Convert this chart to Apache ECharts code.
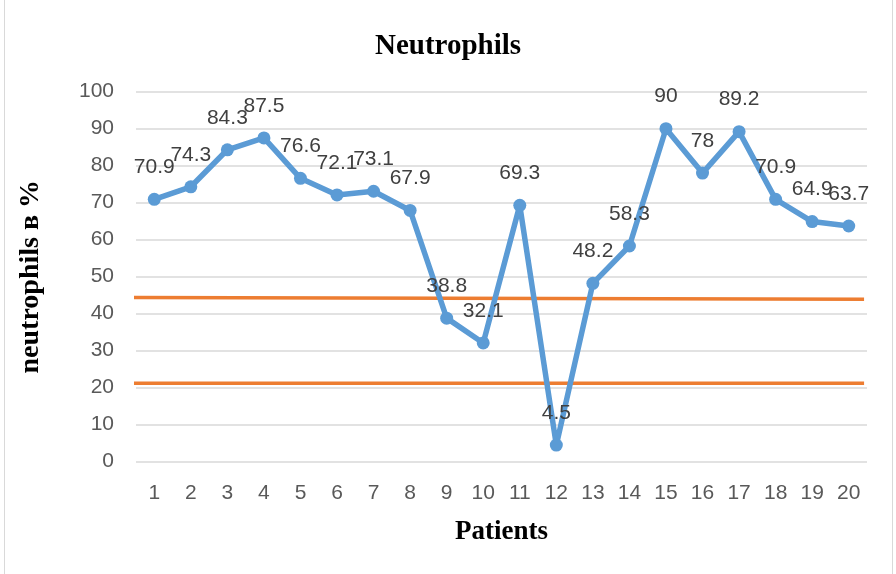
<!DOCTYPE html>
<html>
<head>
<meta charset="utf-8">
<script src="https://cdn.jsdelivr.net/npm/echarts@6/dist/echarts.min.js"></script>
<style>
  html, body { margin: 0; padding: 0; background: #fff; }
  #main { width: 896px; height: 574px; }
</style>
</head>
<body>
<div id="main"></div>
<script>
// patients and neutrophil values
var patients = ['1', '2', '3', '4', '5', '6', '7', '8', '9', '10',
    '11', '12', '13', '14', '15', '16', '17', '18', '19', '20'];
var neutrophils = [70.9, 74.3, 84.3, 87.5, 76.6, 72.1, 73.1, 67.9, 38.8, 32.1,
    69.3, 4.5, 48.2, 58.3, 90, 78, 89.2, 70.9, 64.9, 63.7];
// the two orange reference lines (start / end values)
var upperLimit = [[-0.008, 44.4], [0.996, 43.9]];
var lowerLimit = [[-0.008, 21.2], [0.996, 21.2]];
var yTicks = [0, 100, 10];

var sans = 'Liberation Sans';
var serif = 'Liberation Serif';

var myChart = echarts.init(document.getElementById('main'));
var option = {
    animation: false,
    backgroundColor: '#fff',
    title: {
        text: 'Neutrophils',
        left: 'center',
        top: 27,
        textStyle: { fontFamily: serif, fontSize: 29, fontWeight: 'bold', color: '#000' }
    },
    graphic: [{
        type: 'rect',
        shape: { x: 4.5, y: -2, width: 888, height: 580 },
        style: { fill: 'none', stroke: '#d9d9d9', lineWidth: 1 }
    }],
    grid: { left: 136, right: 29, top: 91.7, bottom: 112.3 },
    xAxis: [{
        type: 'category',
        data: patients,
        boundaryGap: true,
        name: 'Patients',
        nameLocation: 'middle',
        nameGap: 57,
        nameTextStyle: { fontFamily: serif, fontSize: 27, fontWeight: 'bold', color: '#000' },
        axisLine: { show: false },
        axisTick: { show: false },
        axisLabel: { color: '#595959', fontFamily: sans, fontSize: 21, margin: 21 }
    }, {
        type: 'value',
        min: 0,
        max: 1,
        show: false
    }],
    yAxis: {
        type: 'value',
        min: yTicks[0],
        max: yTicks[1],
        interval: yTicks[2],
        name: 'neutrophils в %',
        nameLocation: 'middle',
        nameGap: 91,
        nameTextStyle: { fontFamily: serif, fontSize: 28, fontWeight: 'bold', color: '#000' },
        axisLine: { show: false },
        axisTick: { show: false },
        axisLabel: { color: '#595959', fontFamily: sans, fontSize: 21, margin: 22 },
        splitLine: { lineStyle: { color: '#d9d9d9', width: 1.5 } }
    },
    series: [{
        type: 'line',
        xAxisIndex: 1,
        data: upperLimit,
        symbol: 'none',
        lineStyle: { color: '#ed7d31', width: 3.5 },
        silent: true
    }, {
        type: 'line',
        xAxisIndex: 1,
        data: lowerLimit,
        symbol: 'none',
        lineStyle: { color: '#ed7d31', width: 3.5 },
        silent: true
    }, {
        name: 'neutrophils',
        type: 'line',
        xAxisIndex: 0,
        data: neutrophils,
        symbol: 'circle',
        symbolSize: 13,
        itemStyle: { color: '#5b9bd5' },
        lineStyle: { color: '#5b9bd5', width: 5.5 },
        label: {
            show: true,
            position: 'top',
            distance: 15,
            color: '#404040',
            fontFamily: sans,
            fontSize: 21
        },
        z: 5
    }]
};
myChart.setOption(option);
</script>
</body>
</html>
